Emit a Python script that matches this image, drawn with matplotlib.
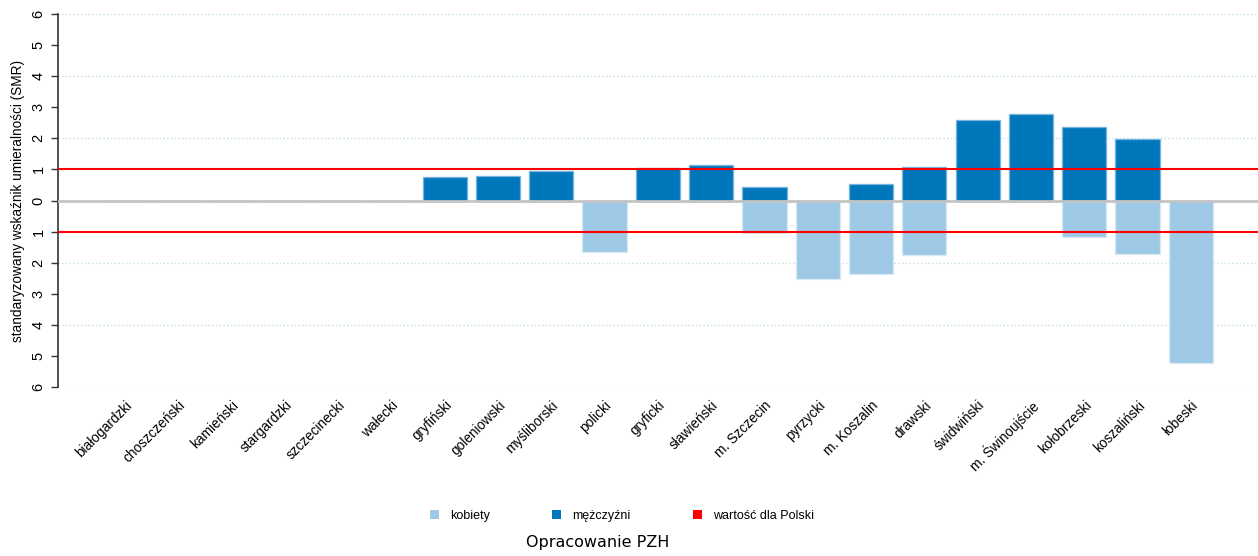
import numpy as np
import matplotlib
matplotlib.use("Agg")
import matplotlib.pyplot as plt
from matplotlib.patches import Patch

# powiaty województwa zachodniopomorskiego
powiaty = ["białogardzki", "choszczeński", "kamieński", "stargardzki",
           "szczecinecki", "wałecki", "gryfiński", "goleniowski",
           "myśliborski", "policki", "gryficki", "sławieński",
           "m. Szczecin", "pyrzycki", "m. Koszalin", "drawski",
           "świdwiński", "m. Świnoujście", "kołobrzeski", "koszaliński",
           "łobeski"]

# SMR mężczyźni (w górę) i kobiety (w dół, jako wartości ujemne); 0 = brak
smr_mezczyzni = [0, 0, 0, 0, 0, 0, 0.76, 0.80, 0.95, 0, 1.05, 1.13,
                 0.43, 0, 0.54, 1.08, 2.60, 2.77, 2.35, 1.98, 0]
smr_kobiety = [0, 0, 0, 0, 0, 0, 0, 0, 0, -1.65, 0, 0,
               -1.05, -2.53, -2.35, -1.76, 0, 0, -1.19, -1.72, -5.24]

polska = 1.0
y_ticks = [-6, -5, -4, -3, -2, -1, 0, 1, 2, 3, 4, 5, 6]
siatka = [-6, -4, -2, 2, 4, 6]

kol_k = "#9dc8e6"
kol_m = "#0076bb"
kol_pl = "#ff0000"

plt.rcParams["font.family"] = ["Liberation Sans", "DejaVu Sans"]

fig = plt.figure(figsize=(12.58, 5.56), dpi=100)
ax = fig.add_axes([58 / 1258, 1 - 387 / 556, 1 - 58 / 1258, (387 - 14) / 556])

x = np.arange(len(powiaty))

for yy in siatka:
    ax.axhline(yy, color="#b9dcea", lw=0.9, ls=(0, (1, 2)), zorder=0)

ax.bar(x, smr_kobiety, width=0.83, color=kol_k, edgecolor=(0.85, 0.92, 0.97, 0.8),
       linewidth=1, zorder=2)
ax.bar(x, smr_mezczyzni, width=0.83, color=kol_m, edgecolor=(0.45, 0.7, 0.88, 0.8),
       linewidth=1, zorder=2)

ax.axhline(0, color="#c4c4c4", lw=2, zorder=3)
ax.axhline(polska, color=kol_pl, lw=1.5, zorder=4)
ax.axhline(-polska, color=kol_pl, lw=1.5, zorder=4)

ax.set_xlim(-1.255, 21.26)
ax.set_ylim(-6, 6)

for s in ["top", "right", "bottom"]:
    ax.spines[s].set_visible(False)
ax.spines["left"].set_color("#333333")
ax.spines["left"].set_linewidth(1.2)

ax.set_yticks(y_ticks)
ax.set_yticklabels([str(abs(v)) for v in y_ticks], rotation=90, va="center",
                   fontsize=10.5)
ax.tick_params(axis="y", length=5, width=1, color="#333333", pad=4)
ax.set_ylabel("standaryzowany wskaźnik umieralności (SMR)", fontsize=9.8, labelpad=5)

ax.set_xticks(x)
ax.set_xticklabels(powiaty, rotation=45, ha="right", va="top",
                   rotation_mode="anchor", fontsize=9.8)
ax.tick_params(axis="x", length=0, pad=8)

uchwyty = [Patch(facecolor=kol_k, edgecolor="none", label="kobiety"),
           Patch(facecolor=kol_m, edgecolor="none", label="mężczyźni"),
           Patch(facecolor=kol_pl, edgecolor="none", label="wartość dla Polski")]
fig.legend(handles=uchwyty, loc="center", bbox_to_anchor=(622 / 1258, 1 - 516 / 556),
           ncol=3, frameon=False, fontsize=9, handlelength=0.7, handleheight=0.7,
           handletextpad=0.9, columnspacing=5.0)

fig.text(598 / 1258, 1 - 543 / 556, "Opracowanie PZH", ha="center", va="center",
         fontsize=11.5, family="DejaVu Sans")

fig.savefig("out.png", dpi=100)
